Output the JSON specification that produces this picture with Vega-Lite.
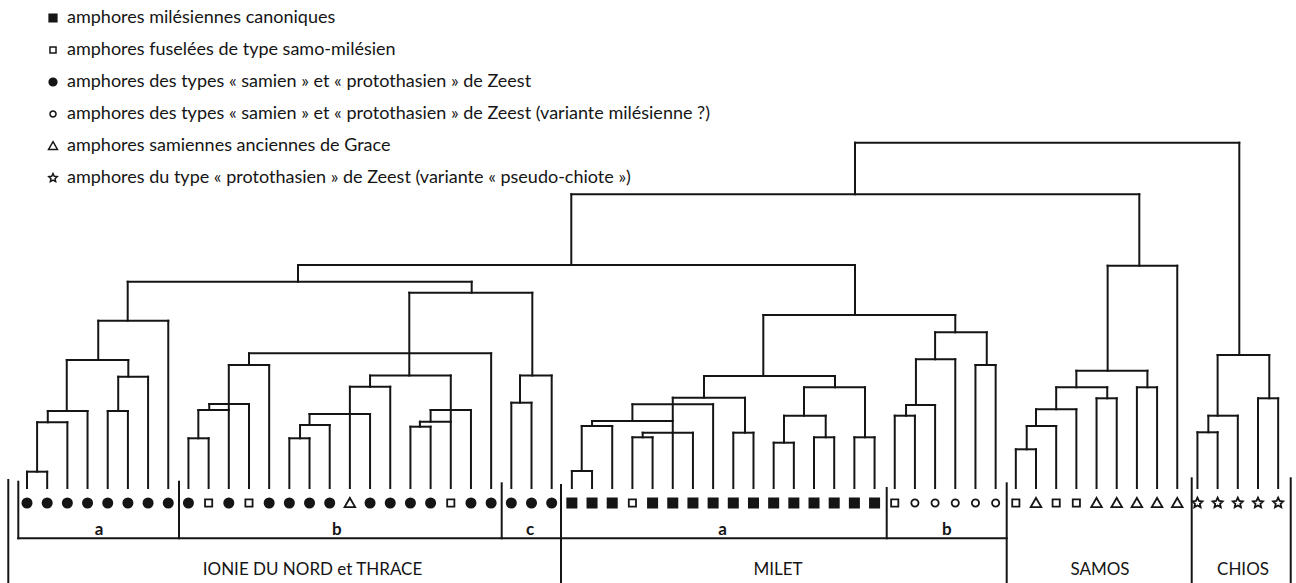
{
  "$schema": "https://vega.github.io/schema/vega-lite/v6.json",
  "width": 1296,
  "height": 583,
  "autosize": {"type": "none"},
  "padding": 0,
  "background": "white",
  "config": {"view": {"stroke": null}, "font": "Lato"},
  "datasets": {
    "segments": [
      {"x": 0, "x2": 1, "h": 16.3, "h2": 16.3},
      {"x": 0.5, "x2": 0.5, "h": 16.3, "h2": 65.7},
      {"x": 0.5, "x2": 2, "h": 65.7, "h2": 65.7},
      {"x": 1.03, "x2": 1.03, "h": 65.7, "h2": 77},
      {"x": 1.03, "x2": 3, "h": 77, "h2": 77},
      {"x": 1.97, "x2": 1.97, "h": 77, "h2": 128},
      {"x": 4, "x2": 5, "h": 77, "h2": 77},
      {"x": 4.52, "x2": 4.52, "h": 77, "h2": 111.3},
      {"x": 4.52, "x2": 6, "h": 111.3, "h2": 111.3},
      {"x": 5.02, "x2": 5.02, "h": 111.3, "h2": 128},
      {"x": 1.97, "x2": 5.02, "h": 128, "h2": 128},
      {"x": 3.53, "x2": 3.53, "h": 128, "h2": 167.3},
      {"x": 3.53, "x2": 7, "h": 167.3, "h2": 167.3},
      {"x": 4.99, "x2": 4.99, "h": 167.3, "h2": 206.3},
      {"x": 4.99, "x2": 22.036, "h": 206.3, "h2": 206.3},
      {"x": 13.429, "x2": 13.429, "h": 206.3, "h2": 223},
      {"x": 22.036, "x2": 22.036, "h": 195.3, "h2": 206.3},
      {"x": 18.944, "x2": 25.04, "h": 195.3, "h2": 195.3},
      {"x": 18.944, "x2": 18.944, "h": 112.5, "h2": 195.3},
      {"x": 25.04, "x2": 25.04, "h": 112.5, "h2": 195.3},
      {"x": 11, "x2": 23, "h": 134.7, "h2": 134.7},
      {"x": 11, "x2": 11, "h": 123, "h2": 134.7},
      {"x": 10, "x2": 12, "h": 123, "h2": 123},
      {"x": 9.03, "x2": 11, "h": 84, "h2": 84},
      {"x": 9.03, "x2": 9.03, "h": 78, "h2": 84},
      {"x": 8.49, "x2": 10, "h": 78, "h2": 78},
      {"x": 8.49, "x2": 8.49, "h": 49.7, "h2": 78},
      {"x": 8, "x2": 9, "h": 49.7, "h2": 49.7},
      {"x": 17, "x2": 21, "h": 112.5, "h2": 112.5},
      {"x": 17, "x2": 17, "h": 101.3, "h2": 112.5},
      {"x": 16, "x2": 18, "h": 101.3, "h2": 101.3},
      {"x": 14, "x2": 17, "h": 74, "h2": 74},
      {"x": 14, "x2": 14, "h": 63, "h2": 74},
      {"x": 13.53, "x2": 15, "h": 63, "h2": 63},
      {"x": 13.53, "x2": 13.53, "h": 49.7, "h2": 63},
      {"x": 13, "x2": 14, "h": 49.7, "h2": 49.7},
      {"x": 20, "x2": 22, "h": 78, "h2": 78},
      {"x": 20, "x2": 20, "h": 66.3, "h2": 78},
      {"x": 19.47, "x2": 21, "h": 66.3, "h2": 66.3},
      {"x": 19.47, "x2": 19.47, "h": 61.3, "h2": 66.3},
      {"x": 19, "x2": 20, "h": 61.3, "h2": 61.3},
      {"x": 24.43, "x2": 26, "h": 112.5, "h2": 112.5},
      {"x": 24.43, "x2": 24.43, "h": 85.3, "h2": 112.5},
      {"x": 24, "x2": 25, "h": 85.3, "h2": 85.3},
      {"x": 13.429, "x2": 41.031, "h": 223, "h2": 223},
      {"x": 26.972, "x2": 26.972, "h": 223, "h2": 293.7},
      {"x": 26.972, "x2": 55.119, "h": 293.7, "h2": 293.7},
      {"x": 41.031, "x2": 41.031, "h": 293.7, "h2": 345.3},
      {"x": 41.031, "x2": 60.074, "h": 345.3, "h2": 345.3},
      {"x": 60.074, "x2": 60.074, "h": 133, "h2": 345.3},
      {"x": 55.119, "x2": 55.119, "h": 222.3, "h2": 293.7},
      {"x": 41.031, "x2": 41.031, "h": 173, "h2": 223},
      {"x": 36.487, "x2": 46, "h": 173, "h2": 173},
      {"x": 36.487, "x2": 36.487, "h": 112, "h2": 173},
      {"x": 33.548, "x2": 40.04, "h": 112, "h2": 112},
      {"x": 40.04, "x2": 40.04, "h": 100.7, "h2": 112},
      {"x": 38.503, "x2": 41.527, "h": 100.7, "h2": 100.7},
      {"x": 41.527, "x2": 41.527, "h": 50.7, "h2": 100.7},
      {"x": 41, "x2": 42, "h": 50.7, "h2": 50.7},
      {"x": 38.503, "x2": 38.503, "h": 72.3, "h2": 100.7},
      {"x": 37.512, "x2": 39.579, "h": 72.3, "h2": 72.3},
      {"x": 37.512, "x2": 37.512, "h": 45.3, "h2": 72.3},
      {"x": 37, "x2": 38, "h": 45.3, "h2": 45.3},
      {"x": 39.579, "x2": 39.579, "h": 50.7, "h2": 72.3},
      {"x": 39, "x2": 40, "h": 50.7, "h2": 50.7},
      {"x": 33.548, "x2": 33.548, "h": 90.3, "h2": 112},
      {"x": 32, "x2": 35.58, "h": 90.3, "h2": 90.3},
      {"x": 35.58, "x2": 35.58, "h": 55.3, "h2": 90.3},
      {"x": 35, "x2": 36, "h": 55.3, "h2": 55.3},
      {"x": 30, "x2": 34, "h": 83.7, "h2": 83.7},
      {"x": 30, "x2": 30, "h": 67, "h2": 83.7},
      {"x": 28, "x2": 32, "h": 67, "h2": 67},
      {"x": 28, "x2": 28, "h": 62, "h2": 67},
      {"x": 27.488, "x2": 29, "h": 62, "h2": 62},
      {"x": 27.488, "x2": 27.488, "h": 17, "h2": 62},
      {"x": 27, "x2": 28, "h": 17, "h2": 17},
      {"x": 30.51, "x2": 33, "h": 55.3, "h2": 55.3},
      {"x": 30.51, "x2": 30.51, "h": 50.7, "h2": 55.3},
      {"x": 30, "x2": 31, "h": 50.7, "h2": 50.7},
      {"x": 46, "x2": 46, "h": 155.7, "h2": 173},
      {"x": 45, "x2": 47.56, "h": 155.7, "h2": 155.7},
      {"x": 47.56, "x2": 47.56, "h": 123, "h2": 155.7},
      {"x": 47, "x2": 48, "h": 123, "h2": 123},
      {"x": 45, "x2": 45, "h": 128.7, "h2": 155.7},
      {"x": 44.05, "x2": 46, "h": 128.7, "h2": 128.7},
      {"x": 44.05, "x2": 44.05, "h": 83, "h2": 128.7},
      {"x": 43.56, "x2": 45, "h": 83, "h2": 83},
      {"x": 43.56, "x2": 43.56, "h": 72.3, "h2": 83},
      {"x": 43, "x2": 44, "h": 72.3, "h2": 72.3},
      {"x": 53.55, "x2": 57, "h": 222.3, "h2": 222.3},
      {"x": 53.55, "x2": 53.55, "h": 117.3, "h2": 222.3},
      {"x": 52, "x2": 55.52, "h": 117.3, "h2": 117.3},
      {"x": 55.52, "x2": 55.52, "h": 100.7, "h2": 117.3},
      {"x": 55, "x2": 56, "h": 100.7, "h2": 100.7},
      {"x": 52, "x2": 52, "h": 100.7, "h2": 117.3},
      {"x": 51, "x2": 53.53, "h": 100.7, "h2": 100.7},
      {"x": 53.53, "x2": 53.53, "h": 89.7, "h2": 100.7},
      {"x": 53, "x2": 54, "h": 89.7, "h2": 89.7},
      {"x": 51, "x2": 51, "h": 78.7, "h2": 100.7},
      {"x": 50, "x2": 52, "h": 78.7, "h2": 78.7},
      {"x": 50, "x2": 50, "h": 62, "h2": 78.7},
      {"x": 49.54, "x2": 51, "h": 62, "h2": 62},
      {"x": 49.54, "x2": 49.54, "h": 38.7, "h2": 62},
      {"x": 49, "x2": 50, "h": 38.7, "h2": 38.7},
      {"x": 59, "x2": 61.56, "h": 133, "h2": 133},
      {"x": 61.56, "x2": 61.56, "h": 89.7, "h2": 133},
      {"x": 61, "x2": 62, "h": 89.7, "h2": 89.7},
      {"x": 59, "x2": 59, "h": 72.3, "h2": 133},
      {"x": 58.54, "x2": 60, "h": 72.3, "h2": 72.3},
      {"x": 58.54, "x2": 58.54, "h": 55.7, "h2": 72.3},
      {"x": 58, "x2": 59, "h": 55.7, "h2": 55.7},
      {"x": -0.927, "x2": -0.927, "h": 8, "h2": -95},
      {"x": -0.431, "x2": -0.431, "h": 6.3, "h2": -50.3},
      {"x": -0.431, "x2": 48.548, "h": -50.3, "h2": -50.3},
      {"x": 7.532, "x2": 7.532, "h": 6.3, "h2": -50.3},
      {"x": 23.523, "x2": 23.523, "h": 4.7, "h2": -50.3},
      {"x": 26.462, "x2": 26.462, "h": 3, "h2": -95},
      {"x": 42.602, "x2": 42.602, "h": 0, "h2": -50.3},
      {"x": 48.548, "x2": 48.548, "h": 4.7, "h2": -95},
      {"x": 57.716, "x2": 57.716, "h": 9.7, "h2": -95},
      {"x": 62.622, "x2": 62.622, "h": 9.7, "h2": -95}
    ],
    "leaves": [
      {"i": 0, "type": "amphores des types « samien » et « protothasien » de Zeest", "top": 16.3},
      {"i": 1, "type": "amphores des types « samien » et « protothasien » de Zeest", "top": 16.3},
      {"i": 2, "type": "amphores des types « samien » et « protothasien » de Zeest", "top": 65.7},
      {"i": 3, "type": "amphores des types « samien » et « protothasien » de Zeest", "top": 77},
      {"i": 4, "type": "amphores des types « samien » et « protothasien » de Zeest", "top": 77},
      {"i": 5, "type": "amphores des types « samien » et « protothasien » de Zeest", "top": 77},
      {"i": 6, "type": "amphores des types « samien » et « protothasien » de Zeest", "top": 111.3},
      {"i": 7, "type": "amphores des types « samien » et « protothasien » de Zeest", "top": 167.3},
      {"i": 8, "type": "amphores des types « samien » et « protothasien » de Zeest", "top": 49.7},
      {"i": 9, "type": "amphores fuselées de type samo-milésien", "top": 49.7},
      {"i": 10, "type": "amphores des types « samien » et « protothasien » de Zeest", "top": 123},
      {"i": 11, "type": "amphores fuselées de type samo-milésien", "top": 84},
      {"i": 12, "type": "amphores des types « samien » et « protothasien » de Zeest", "top": 123},
      {"i": 13, "type": "amphores des types « samien » et « protothasien » de Zeest", "top": 49.7},
      {"i": 14, "type": "amphores des types « samien » et « protothasien » de Zeest", "top": 49.7},
      {"i": 15, "type": "amphores des types « samien » et « protothasien » de Zeest", "top": 63},
      {"i": 16, "type": "amphores samiennes anciennes de Grace", "top": 101.3},
      {"i": 17, "type": "amphores des types « samien » et « protothasien » de Zeest", "top": 74},
      {"i": 18, "type": "amphores des types « samien » et « protothasien » de Zeest", "top": 101.3},
      {"i": 19, "type": "amphores des types « samien » et « protothasien » de Zeest", "top": 61.3},
      {"i": 20, "type": "amphores des types « samien » et « protothasien » de Zeest", "top": 61.3},
      {"i": 21, "type": "amphores fuselées de type samo-milésien", "top": 112.5},
      {"i": 22, "type": "amphores des types « samien » et « protothasien » de Zeest", "top": 78},
      {"i": 23, "type": "amphores des types « samien » et « protothasien » de Zeest", "top": 134.7},
      {"i": 24, "type": "amphores des types « samien » et « protothasien » de Zeest", "top": 85.3},
      {"i": 25, "type": "amphores des types « samien » et « protothasien » de Zeest", "top": 85.3},
      {"i": 26, "type": "amphores des types « samien » et « protothasien » de Zeest", "top": 112.5},
      {"i": 27, "type": "amphores milésiennes canoniques", "top": 17},
      {"i": 28, "type": "amphores milésiennes canoniques", "top": 17},
      {"i": 29, "type": "amphores milésiennes canoniques", "top": 62},
      {"i": 30, "type": "amphores fuselées de type samo-milésien", "top": 50.7},
      {"i": 31, "type": "amphores milésiennes canoniques", "top": 50.7},
      {"i": 32, "type": "amphores milésiennes canoniques", "top": 90.3},
      {"i": 33, "type": "amphores milésiennes canoniques", "top": 55.3},
      {"i": 34, "type": "amphores milésiennes canoniques", "top": 83.7},
      {"i": 35, "type": "amphores milésiennes canoniques", "top": 55.3},
      {"i": 36, "type": "amphores milésiennes canoniques", "top": 55.3},
      {"i": 37, "type": "amphores milésiennes canoniques", "top": 45.3},
      {"i": 38, "type": "amphores milésiennes canoniques", "top": 45.3},
      {"i": 39, "type": "amphores milésiennes canoniques", "top": 50.7},
      {"i": 40, "type": "amphores milésiennes canoniques", "top": 50.7},
      {"i": 41, "type": "amphores milésiennes canoniques", "top": 50.7},
      {"i": 42, "type": "amphores milésiennes canoniques", "top": 50.7},
      {"i": 43, "type": "amphores fuselées de type samo-milésien", "top": 72.3},
      {"i": 44, "type": "amphores des types « samien » et « protothasien » de Zeest (variante milésienne ?)", "top": 72.3},
      {"i": 45, "type": "amphores des types « samien » et « protothasien » de Zeest (variante milésienne ?)", "top": 83},
      {"i": 46, "type": "amphores des types « samien » et « protothasien » de Zeest (variante milésienne ?)", "top": 128.7},
      {"i": 47, "type": "amphores des types « samien » et « protothasien » de Zeest (variante milésienne ?)", "top": 123},
      {"i": 48, "type": "amphores des types « samien » et « protothasien » de Zeest (variante milésienne ?)", "top": 123},
      {"i": 49, "type": "amphores fuselées de type samo-milésien", "top": 38.7},
      {"i": 50, "type": "amphores samiennes anciennes de Grace", "top": 38.7},
      {"i": 51, "type": "amphores fuselées de type samo-milésien", "top": 62},
      {"i": 52, "type": "amphores fuselées de type samo-milésien", "top": 78.7},
      {"i": 53, "type": "amphores samiennes anciennes de Grace", "top": 89.7},
      {"i": 54, "type": "amphores samiennes anciennes de Grace", "top": 89.7},
      {"i": 55, "type": "amphores samiennes anciennes de Grace", "top": 100.7},
      {"i": 56, "type": "amphores samiennes anciennes de Grace", "top": 100.7},
      {"i": 57, "type": "amphores samiennes anciennes de Grace", "top": 222.3},
      {"i": 58, "type": "amphores du type « protothasien » de Zeest (variante « pseudo-chiote »)", "top": 55.7},
      {"i": 59, "type": "amphores du type « protothasien » de Zeest (variante « pseudo-chiote »)", "top": 55.7},
      {"i": 60, "type": "amphores du type « protothasien » de Zeest (variante « pseudo-chiote »)", "top": 72.3},
      {"i": 61, "type": "amphores du type « protothasien » de Zeest (variante « pseudo-chiote »)", "top": 89.7},
      {"i": 62, "type": "amphores du type « protothasien » de Zeest (variante « pseudo-chiote »)", "top": 89.7}
    ],
    "sublabels": [
      {"x": 3.568, "h": -42, "label": "a"},
      {"x": 15.35, "h": -42, "label": "b"},
      {"x": 24.93, "h": -42, "label": "c"},
      {"x": 34.47, "h": -42, "label": "a"},
      {"x": 45.575, "h": -42, "label": "b"}
    ],
    "regions": [
      {"x": 14.148, "h": -82, "label": "IONIE DU NORD et THRACE"},
      {"x": 37.215, "h": -82, "label": "MILET"},
      {"x": 53.171, "h": -82, "label": "SAMOS"},
      {"x": 60.258, "h": -82, "label": "CHIOS"}
    ]
  },
  "layer": [
    {
      "data": {"name": "segments"},
      "mark": {"type": "rule", "stroke": "#151515", "strokeWidth": 2, "strokeCap": "square"},
      "encoding": {
        "x": {"field": "x", "type": "quantitative", "scale": {"domain": [-1.338, 62.884], "nice": false, "zero": false}, "axis": null},
        "x2": {"field": "x2"},
        "y": {"field": "h", "type": "quantitative", "scale": {"domain": [-95, 488], "nice": false, "zero": false}, "axis": null},
        "y2": {"field": "h2"}
      }
    },
    {
      "data": {"name": "leaves"},
      "mark": {"type": "rule", "stroke": "#151515", "strokeWidth": 2, "strokeCap": "square"},
      "encoding": {
        "x": {"field": "i", "type": "quantitative", "scale": {"domain": [-1.338, 62.884], "nice": false, "zero": false}, "axis": null},
        "y": {"field": "top", "type": "quantitative", "scale": {"domain": [-95, 488], "nice": false, "zero": false}, "axis": null},
        "y2": {"datum": 0}
      }
    },
    {
      "data": {"name": "leaves"},
      "mark": {"type": "point", "filled": true, "stroke": "#151515", "strokeWidth": 1.8, "opacity": 1, "size": 85},
      "encoding": {
        "x": {"field": "i", "type": "quantitative", "scale": {"domain": [-1.338, 62.884], "nice": false, "zero": false}, "axis": null},
        "y": {"datum": -15, "type": "quantitative", "scale": {"domain": [-95, 488], "nice": false, "zero": false}, "axis": null},
        "shape": {
          "field": "type", "type": "nominal",
          "scale": {
            "domain": ["amphores milésiennes canoniques", "amphores fuselées de type samo-milésien", "amphores des types « samien » et « protothasien » de Zeest", "amphores des types « samien » et « protothasien » de Zeest (variante milésienne ?)", "amphores samiennes anciennes de Grace", "amphores du type « protothasien » de Zeest (variante « pseudo-chiote »)"],
            "range": ["square", "M-0.78,-0.78L0.78,-0.78L0.78,0.78L-0.78,0.78Z", "circle", "M0.78,0A0.78,0.78,0,1,1,-0.78,0A0.78,0.78,0,1,1,0.78,0Z", "M0,-1.1L1.15,0.9L-1.15,0.9Z", "M0,-1.15L0.33,-0.45L1.09,-0.36L0.53,0.17L0.68,0.93L0,0.56L-0.68,0.93L-0.53,0.17L-1.09,-0.36L-0.33,-0.45Z"]
          },
          "legend": {"orient": "none", "legendX": 44, "legendY": 9, "title": null, "labelFont": "Lato", "labelFontSize": 18, "labelColor": "#151515", "labelLimit": 900, "rowPadding": 14, "labelOffset": 5, "padding": 0, "symbolSize": 60, "encode": {"symbols": {"update": {"stroke": {"value": "#151515"}, "strokeWidth": {"value": 1.6}}}}}
        },
        "fill": {
          "field": "type", "type": "nominal",
          "scale": {
            "domain": ["amphores milésiennes canoniques", "amphores fuselées de type samo-milésien", "amphores des types « samien » et « protothasien » de Zeest", "amphores des types « samien » et « protothasien » de Zeest (variante milésienne ?)", "amphores samiennes anciennes de Grace", "amphores du type « protothasien » de Zeest (variante « pseudo-chiote »)"],
            "range": ["#151515", "white", "#151515", "white", "white", "white"]
          },
          "legend": {"orient": "none", "legendX": 44, "legendY": 9, "title": null, "labelFont": "Lato", "labelFontSize": 18, "labelColor": "#151515", "labelLimit": 900, "rowPadding": 14, "labelOffset": 5, "padding": 0, "symbolSize": 60, "encode": {"symbols": {"update": {"stroke": {"value": "#151515"}, "strokeWidth": {"value": 1.6}}}}}
        }
      }
    },
    {
      "data": {"name": "sublabels"},
      "mark": {"type": "text", "font": "Lato", "fontSize": 17, "fontWeight": "bold", "color": "#151515", "baseline": "middle", "align": "center"},
      "encoding": {
        "x": {"field": "x", "type": "quantitative", "scale": {"domain": [-1.338, 62.884], "nice": false, "zero": false}, "axis": null},
        "y": {"field": "h", "type": "quantitative", "scale": {"domain": [-95, 488], "nice": false, "zero": false}, "axis": null},
        "text": {"field": "label"}
      }
    },
    {
      "data": {"name": "regions"},
      "mark": {"type": "text", "font": "Lato", "fontSize": 17, "color": "#151515", "baseline": "middle", "align": "center"},
      "encoding": {
        "x": {"field": "x", "type": "quantitative", "scale": {"domain": [-1.338, 62.884], "nice": false, "zero": false}, "axis": null},
        "y": {"field": "h", "type": "quantitative", "scale": {"domain": [-95, 488], "nice": false, "zero": false}, "axis": null},
        "text": {"field": "label"}
      }
    }
  ]
}
